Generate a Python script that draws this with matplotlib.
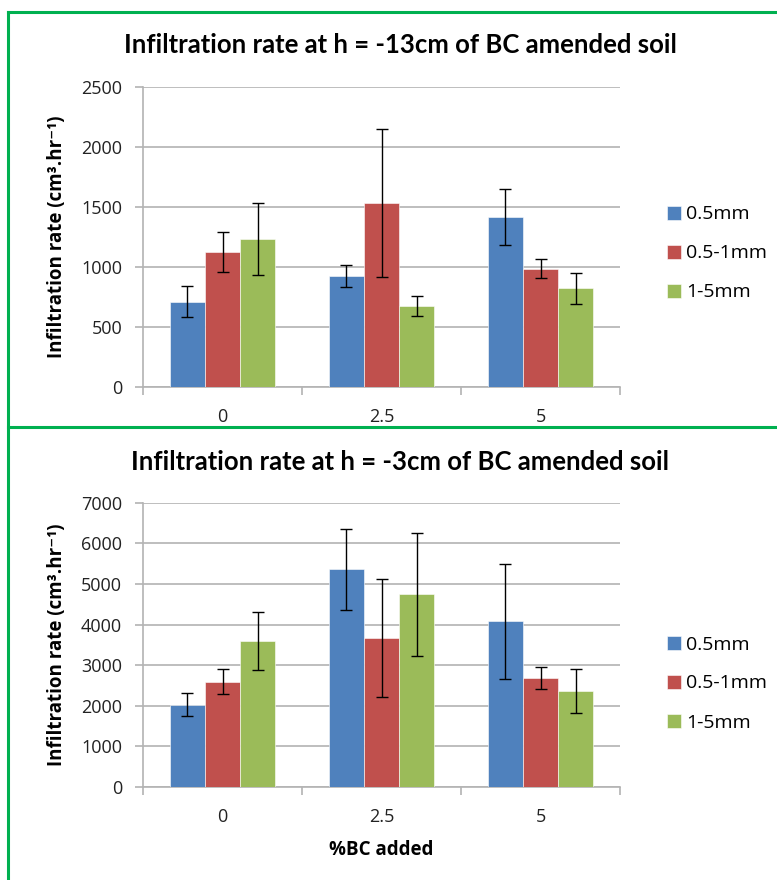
import numpy as np
import matplotlib.pyplot as plt
from matplotlib.lines import Line2D

# categories and series
categories = ['0', '2.5', '5']
series_names = ['0.5mm', '0.5-1mm', '1-5mm']
colors = ['#4F81BD', '#C0504D', '#9BBB59']

# h = -13cm
top_means = [[710, 925, 1415],
             [1125, 1535, 985],
             [1230, 672, 820]]
top_errs = [[127, 92, 235],
            [170, 615, 78],
            [300, 83, 127]]

# h = -3cm
bot_means = [[2027, 5367, 4079],
             [2595, 3676, 2691],
             [3595, 4745, 2365]]
bot_errs = [[283, 997, 1408],
            [315, 1450, 271],
            [718, 1510, 545]]

W, H = 777, 880
fig = plt.figure(figsize=(W / 100, H / 100), dpi=100)

body_font = ['Open Sans', 'DejaVu Sans']
title_font = ['Lato', 'DejaVu Sans']
grid_color = '#B3B3B3'


def draw_panel(rect, means, errs, ymax, ystep, title, title_y, legend_y, xlabel=None):
    ax = fig.add_axes(rect)
    x = np.arange(len(categories))
    bw = 0.222
    for i in range(len(series_names)):
        ax.bar(x + (i - 1) * bw, means[i], bw, color=colors[i], edgecolor='white',
               linewidth=0.4, label=series_names[i], zorder=3)
        ax.errorbar(x + (i - 1) * bw, means[i], yerr=errs[i], fmt='none', ecolor='black',
                    elinewidth=1, capsize=4, capthick=1, zorder=4)
    ax.set_xlim(-0.5, 2.5)
    ax.set_ylim(0, ymax)
    ax.set_yticks(np.arange(0, ymax + 1, ystep))
    ax.yaxis.grid(True, color=grid_color, linewidth=1.2, zorder=0)
    ax.set_axisbelow(True)
    for s in ['top', 'right']:
        ax.spines[s].set_visible(False)
    for s in ['left', 'bottom']:
        ax.spines[s].set_color(grid_color)
        ax.spines[s].set_linewidth(1.2)
    ax.set_xticks(x)
    ax.set_xticklabels(categories)
    ax.set_xticks([-0.5, 0.5, 1.5, 2.5], minor=True)
    ax.tick_params(axis='x', which='major', length=0, pad=15, labelsize=13)
    ax.tick_params(axis='x', which='minor', length=6, width=1.2, color=grid_color, direction='out')
    ax.tick_params(axis='y', length=6, width=1.2, color=grid_color, labelsize=13, pad=9)
    for lab in ax.get_xticklabels() + ax.get_yticklabels():
        lab.set_family(body_font)
        lab.set_color('#222222')
    ax.set_ylabel('Infiltration rate (cm³.hr⁻¹)', fontsize=13.5, fontweight='bold',
                  family=body_font)
    ax.yaxis.set_label_coords(-0.16, 0.5)
    if xlabel:
        ax.set_xlabel(xlabel, fontsize=13.5, fontweight='bold', family=body_font, labelpad=10)
    fig.text(400 / W, 1 - title_y / H, title, ha='center', va='center', fontsize=18.5,
             fontweight='bold', family=title_font)
    ax.legend(loc='upper left', bbox_to_anchor=(649 / W, 1 - legend_y / H),
              bbox_transform=fig.transFigure, frameon=False, handlelength=0.72,
              handleheight=0.72, handletextpad=0.27, labelspacing=1.08,
              prop={'family': body_font, 'size': 14})
    return ax


draw_panel([143 / W, 1 - 386.7 / H, 477 / W, 299.4 / H], top_means, top_errs,
           2500, 500, 'Infiltration rate at h = -13cm of BC amended soil', 45, 188)
draw_panel([143 / W, 1 - 787 / H, 477 / W, 284.3 / H], bot_means, bot_errs,
           7000, 1000, 'Infiltration rate at h = -3cm of BC amended soil', 462, 618,
           xlabel='%BC added')

# green chart borders
green = '#00B050'
fig.add_artist(Line2D([8 / W, 1], [1 - 12 / H, 1 - 12 / H], color=green, linewidth=2.2,
                      transform=fig.transFigure))
fig.add_artist(Line2D([8 / W, 8 / W], [0, 1 - 12 / H], color=green, linewidth=2.2,
                      transform=fig.transFigure))
fig.add_artist(Line2D([8 / W, 1], [1 - 427 / H, 1 - 427 / H], color=green, linewidth=2.2,
                      transform=fig.transFigure))

fig.savefig('out.png', dpi=100)
